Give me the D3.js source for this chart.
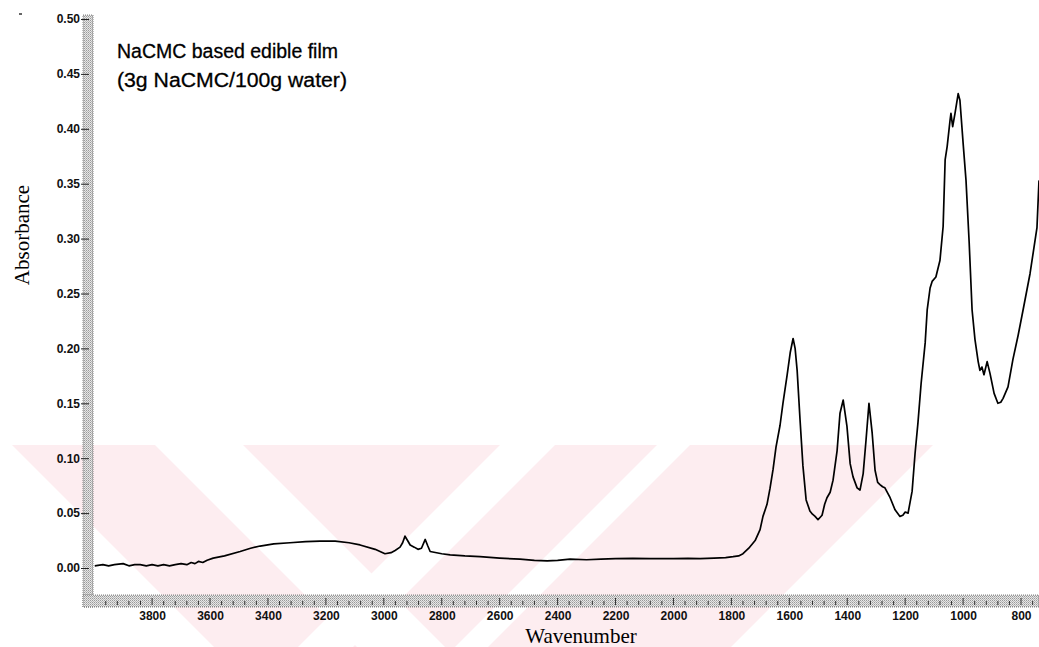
<!DOCTYPE html>
<html>
<head>
<meta charset="utf-8">
<script src="https://cdn.jsdelivr.net/npm/d3@7"></script>
<style>
  html, body { margin: 0; padding: 0; background: #fff; }
  svg { display: block; }
</style>
</head>
<body>
<svg id="chart" width="1039" height="647"></svg>
<script>
// ---- data ----
const wavenumbers = [
  3998, 3970, 3950, 3930, 3900, 3880, 3860, 3841, 3820, 3800, 3780, 3760, 3740, 3720, 3700,
  3680, 3665, 3652, 3640, 3625, 3610, 3589, 3550, 3496, 3460, 3427, 3380, 3324, 3270, 3220,
  3168, 3120, 3082, 3030, 2996, 2975, 2961, 2944, 2935, 2927, 2918, 2909, 2895, 2882, 2870,
  2857, 2848, 2840, 2800, 2771, 2720, 2668, 2600, 2530, 2480, 2436, 2400, 2357, 2300, 2250,
  2200, 2140, 2080, 2000, 1950, 1908, 1860, 1820, 1794, 1775, 1760, 1740, 1718, 1701, 1691,
  1677, 1667, 1656, 1646, 1632, 1622, 1608, 1597, 1587, 1580, 1573, 1563, 1553, 1542, 1529,
  1520, 1511, 1501, 1494, 1487, 1478, 1470, 1459, 1449, 1435, 1425, 1414, 1401, 1390, 1380,
  1366, 1356, 1345, 1335, 1325, 1314, 1304, 1295, 1287, 1278, 1270, 1252, 1235, 1218, 1208,
  1200, 1190, 1176, 1166, 1156, 1145, 1131, 1124, 1114, 1107, 1094, 1080, 1069, 1062, 1055,
  1045, 1042, 1036, 1028, 1017, 1011, 1000, 990, 979, 969, 959, 948, 942, 935, 928,
  917, 907, 893, 880, 870, 862, 845, 828, 810, 793, 769, 745, 738
];
const absorbance = [
  0.002, 0.003, 0.002, 0.003, 0.004, 0.002, 0.003, 0.003, 0.002, 0.003, 0.002, 0.003, 0.002, 0.003, 0.004,
  0.003, 0.005, 0.004, 0.006, 0.005, 0.007, 0.009, 0.011, 0.015, 0.018, 0.020, 0.022, 0.023, 0.024, 0.0245,
  0.0245, 0.023, 0.021, 0.017, 0.013, 0.014, 0.016, 0.019, 0.023, 0.029, 0.025, 0.021, 0.019, 0.017, 0.018,
  0.026, 0.020, 0.015, 0.013, 0.012, 0.011, 0.0103, 0.009, 0.008, 0.007, 0.0064, 0.007, 0.008, 0.0075, 0.008,
  0.0085, 0.0088, 0.0085, 0.0085, 0.0088, 0.0085, 0.009, 0.0095, 0.0103, 0.011, 0.013, 0.018, 0.025, 0.035, 0.047,
  0.058, 0.072, 0.090, 0.110, 0.130, 0.150, 0.175, 0.196, 0.209, 0.200, 0.180, 0.135, 0.093, 0.062, 0.052,
  0.049, 0.047, 0.044, 0.046, 0.048, 0.058, 0.064, 0.069, 0.080, 0.107, 0.141, 0.153, 0.129, 0.095, 0.083,
  0.073, 0.071, 0.086, 0.117, 0.150, 0.123, 0.089, 0.078, 0.076, 0.074, 0.073, 0.064, 0.053, 0.047, 0.048,
  0.051, 0.050, 0.070, 0.104, 0.132, 0.168, 0.205, 0.235, 0.255, 0.261, 0.265, 0.280, 0.311, 0.372, 0.384,
  0.408, 0.414, 0.402, 0.414, 0.432, 0.426, 0.387, 0.353, 0.296, 0.235, 0.208, 0.188, 0.180, 0.183, 0.176,
  0.188, 0.177, 0.159, 0.150, 0.151, 0.1545, 0.165, 0.190, 0.212, 0.235, 0.268, 0.310, 0.353
];
const xTickValues = [3800, 3600, 3400, 3200, 3000, 2800, 2600, 2400, 2200, 2000, 1800, 1600, 1400, 1200, 1000, 800];
const yTickValues = [0.00, 0.05, 0.10, 0.15, 0.20, 0.25, 0.30, 0.35, 0.40, 0.45, 0.50];
const titleLines = ["NaCMC based edible film", "(3g NaCMC/100g water)"];
const xAxisTitle = "Wavenumber";
const yAxisTitle = "Absorbance";

// ---- layout ----
const plotLeft = 93, plotRight = 1039, plotTop = 15, plotBottom = 595;
const bandW = 10, bandH = 12;

const x = d3.scaleLinear().domain([4004, 738]).range([plotLeft, plotRight]);
const y = d3.scaleLinear().domain([0, 0.5]).range([568, 19]);

const svg = d3.select("#chart");
const defs = svg.append("defs");

// stipple pattern for the axis bands
const pat = defs.append("pattern").attr("id", "stip").attr("patternUnits", "userSpaceOnUse")
  .attr("width", 2).attr("height", 2);
pat.append("rect").attr("width", 2).attr("height", 2).attr("fill", "#e6e6e6");
pat.append("rect").attr("width", 1).attr("height", 1).attr("fill", "#9a9a9a");
pat.append("rect").attr("x", 1).attr("y", 1).attr("width", 1).attr("height", 1).attr("fill", "#b8b8b8");

// ---- watermark (light pink stripes) ----
const wmTop = 445, wmBottom = 647;
defs.append("clipPath").attr("id", "wmclip").append("rect")
  .attr("x", 0).attr("y", wmTop).attr("width", 1039).attr("height", wmBottom - wmTop);
const wm = svg.append("g").attr("clip-path", "url(#wmclip)");
const H = wmBottom - wmTop;
const pinkPoly = [[12, wmTop], [933, wmTop], [933 - H, wmBottom], [12 + H, wmBottom]];
wm.append("polygon").attr("points", pinkPoly.map(p => p.join(",")).join(" ")).attr("fill", "#fdedf0");
const whiteStripes = [
  { a: 155, b: 243, dir: 1 },
  { a: 500, b: 555, dir: -1 },
  { a: 657, b: 690, dir: -1 }
];
whiteStripes.forEach(s => {
  const pts = [[s.a, wmTop], [s.b, wmTop], [s.b + s.dir * H, wmBottom], [s.a + s.dir * H, wmBottom]];
  wm.append("polygon").attr("points", pts.map(p => p.join(",")).join(" ")).attr("fill", "#fff");
});

// ---- axis bands ----
svg.append("rect").attr("x", plotLeft - bandW).attr("y", plotTop)
  .attr("width", bandW).attr("height", plotBottom - plotTop + bandH)
  .attr("fill", "url(#stip)").attr("stroke", "#666").attr("stroke-width", 0.8).attr("stroke-dasharray", "1,1");
svg.append("rect").attr("x", plotLeft - bandW).attr("y", plotBottom)
  .attr("width", plotRight - plotLeft + bandW).attr("height", bandH)
  .attr("fill", "url(#stip)").attr("stroke", "#666").attr("stroke-width", 0.8).attr("stroke-dasharray", "1,1");

// ---- x axis ----
const xAxis = d3.axisBottom(x).tickValues(xTickValues).tickSize(0).tickPadding(0).tickFormat(d3.format("d"));
const gx = svg.append("g").attr("transform", `translate(0,${plotBottom + bandH + 4})`).call(xAxis);
gx.select(".domain").remove();
gx.selectAll("text").attr("font-family", "Liberation Sans, Arial, sans-serif")
  .attr("font-weight", "bold").attr("font-size", 12).attr("fill", "#111").attr("dy", "0.71em");
// tick marks inside the bottom band
const minorX = d3.range(3960, 739, -40);
svg.append("g").selectAll("line").data(minorX).join("line")
  .attr("x1", d => x(d)).attr("x2", d => x(d))
  .attr("y1", d => (d % 200 === 0 ? plotBottom + 3 : plotBottom + 6))
  .attr("y2", plotBottom + 10)
  .attr("stroke", "#333").attr("stroke-width", 1);

// ---- y axis ----
const yAxis = d3.axisLeft(y).tickValues(yTickValues).tickSize(8).tickPadding(1).tickFormat(d3.format(".2f"));
const gy = svg.append("g").attr("transform", `translate(${plotLeft - bandW + 6},0)`).call(yAxis);
gy.select(".domain").remove();
gy.selectAll("line").attr("stroke", "#222");
gy.selectAll("text").attr("font-family", "Liberation Sans, Arial, sans-serif")
  .attr("font-weight", "bold").attr("font-size", 12).attr("fill", "#111");

// ---- spectrum line ----
defs.append("clipPath").attr("id", "plotclip").append("rect")
  .attr("x", plotLeft).attr("y", plotTop).attr("width", plotRight - plotLeft).attr("height", plotBottom - plotTop);
const data = wavenumbers.map((w, i) => ({ w, a: absorbance[i] }));
const line = d3.line().x(d => x(d.w)).y(d => y(d.a));
svg.append("path").datum(data).attr("clip-path", "url(#plotclip)")
  .attr("d", line).attr("fill", "none").attr("stroke", "#000")
  .attr("stroke-width", 1.7).attr("stroke-linejoin", "round");

// ---- texts ----
const titleLens = [221, 230];
svg.append("g").selectAll("text").data(titleLines).join("text")
  .attr("x", 117).attr("y", (d, i) => 58 + i * 29)
  .attr("font-family", "Liberation Sans, Arial, sans-serif").attr("font-size", 20)
  .attr("textLength", (d, i) => titleLens[i]).attr("lengthAdjust", "spacingAndGlyphs")
  .attr("fill", "#000").attr("stroke", "#000").attr("stroke-width", 0.3).text(d => d);

svg.append("text").attr("x", 581).attr("y", 643).attr("text-anchor", "middle")
  .attr("font-family", "Liberation Serif, Times New Roman, serif").attr("font-size", 21)
  .attr("fill", "#000").text(xAxisTitle);

svg.append("text").attr("transform", "translate(29,235) rotate(-90)").attr("text-anchor", "middle")
  .attr("font-family", "Liberation Serif, Times New Roman, serif").attr("font-size", 21)
  .attr("fill", "#000").text(yAxisTitle);

// small stray mark at top-left
svg.append("line").attr("x1", 19).attr("x2", 22).attr("y1", 14).attr("y2", 14)
  .attr("stroke", "#333").attr("stroke-width", 1.5);
</script>
</body>
</html>
